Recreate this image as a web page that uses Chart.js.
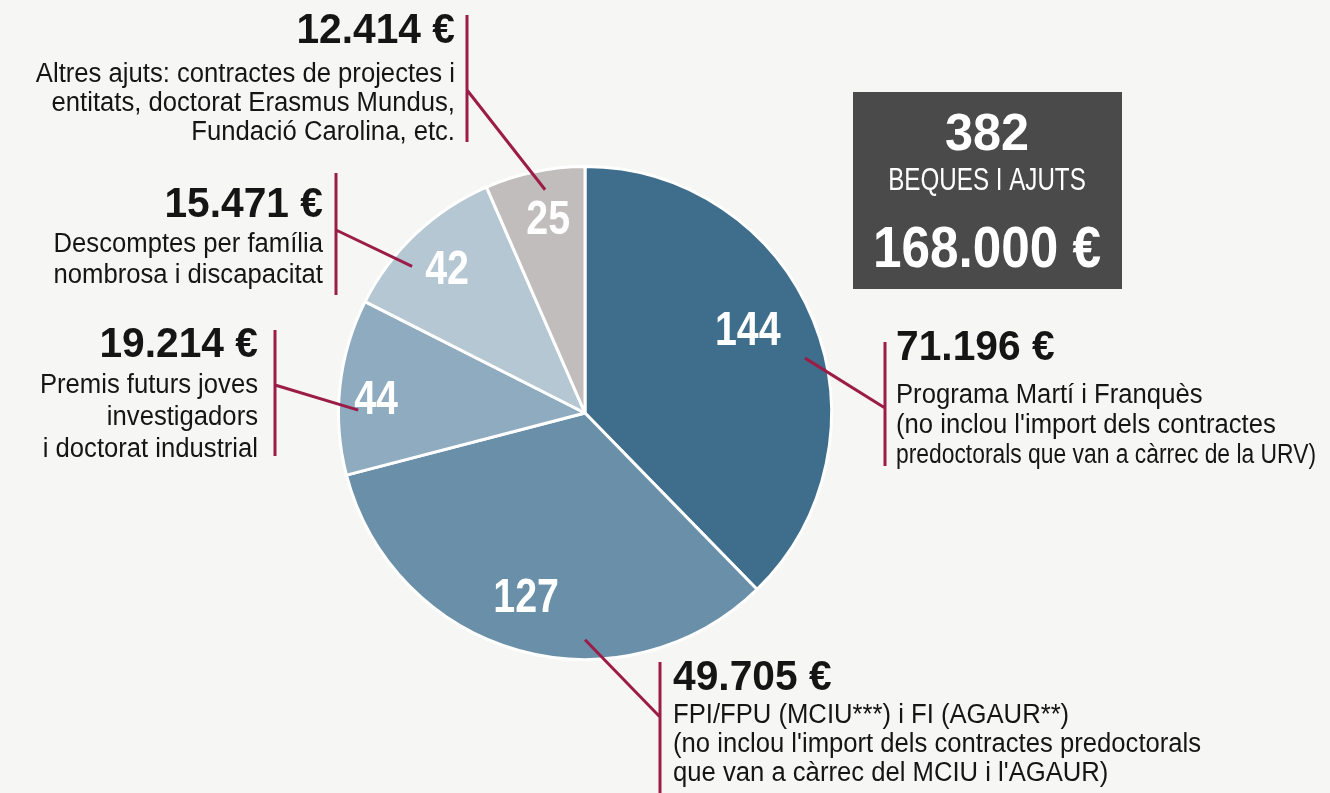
<!DOCTYPE html>
<html>
<head>
<meta charset="utf-8">
<script src="https://cdn.jsdelivr.net/npm/chart.js@4.4.1/dist/chart.umd.min.js"></script>
<style>
  html, body { margin: 0; padding: 0; background: #f6f6f4; }
  #wrap { width: 1330px; height: 793px; }
</style>
</head>
<body>
<div id="wrap"><canvas id="pie" width="1330" height="793"></canvas></div>
<script>
// beques i ajuts: nombre per programa i import
const categories = [
  'Programa Martí i Franquès',
  'FPI/FPU i FI',
  'Premis futurs joves investigadors i doctorat industrial',
  'Descomptes per família nombrosa i discapacitat',
  'Altres ajuts'
];
const counts = [144, 127, 44, 42, 25];
const amounts = [71196, 49705, 19214, 15471, 12414];
const descriptions = [
  ['Programa Martí i Franquès', "(no inclou l'import dels contractes", 'predoctorals que van a càrrec de la URV)'],
  ['FPI/FPU (MCIU***) i FI (AGAUR**)', "(no inclou l'import dels contractes predoctorals", "que van a càrrec del MCIU i l'AGAUR)"],
  ['Premis futurs joves', 'investigadors', 'i doctorat industrial'],
  ['Descomptes per família', 'nombrosa i discapacitat'],
  ['Altres ajuts: contractes de projectes i', 'entitats, doctorat Erasmus Mundus,', 'Fundació Carolina, etc.']
];
const totalLabel = 'BEQUES I AJUTS';

const colors = ['#3e6e8c', '#6990a8', '#8eabbf', '#b5c7d3', '#c1bdbd'];
const leaderColor = '#9c1c48';
const FONT = '"Liberation Sans", Arial, sans-serif';

// posicio dels blocs de text (maquetacio)
// frac = on toca la linia guia dins el sector, lf/lr = posicio de l'etiqueta
const blocks = [
  { align: 'left',  x: 896, bar: 885, top: 342, bottom: 466, join: 408, head: 360, first: 403, lh: 30, frac: 0.56, maxW: 420, lf: 0.46, lr: 0.745 },
  { align: 'left',  x: 673, bar: 660, top: 662, bottom: 793, join: 717, head: 690, first: 723, lh: 29, frac: 0.37, maxW: 0,   lf: 0.52, lr: 0.775 },
  { align: 'right', x: 258, bar: 275, top: 330, bottom: 456, join: 385, head: 357, first: 393, lh: 32, frac: 0.37, maxW: 0,   lf: 0.46, lr: 0.85 },
  { align: 'right', x: 323, bar: 336, top: 173, bottom: 295, join: 230, head: 217, first: 252, lh: 31, frac: 0.34, maxW: 0,   lf: 0.5,  lr: 0.815 },
  { align: 'right', x: 455, bar: 467, top: 15,  bottom: 142, join: 90,  head: 43,  first: 82,  lh: 29, frac: 0.57, maxW: 0,   lf: 0.55, lr: 0.81 }
];

function euros(v) {
  return String(v).replace(/\B(?=(\d{3})+(?!\d))/g, '.') + ' €';
}

function txt(ctx, s, x, y, size, bold, sx, align, color, maxW) {
  ctx.save();
  ctx.font = (bold ? 'bold ' : '') + size + 'px ' + FONT;
  ctx.fillStyle = color;
  ctx.textBaseline = 'alphabetic';
  ctx.textAlign = align;
  ctx.translate(x, y);
  ctx.scale(sx, 1);
  if (maxW) ctx.fillText(s, 0, 0, maxW / sx);
  else ctx.fillText(s, 0, 0);
  ctx.restore();
}

const annotations = {
  id: 'annotations',
  afterDatasetsDraw(chart) {
    const ctx = chart.ctx;
    const arcs = chart.getDatasetMeta(0).data;

    arcs.forEach((arc, i) => {
      const b = blocks[i];
      const p = arc.getProps(['x', 'y', 'startAngle', 'endAngle', 'outerRadius'], true);
      const span = p.endAngle - p.startAngle;

      // etiqueta dins el sector
      const m = p.startAngle + span * b.lf;
      const lr = p.outerRadius * b.lr;
      txt(ctx, String(counts[i]), p.x + Math.cos(m) * lr, p.y + Math.sin(m) * lr + 17, 48, true, 0.82, 'center', '#ffffff');

      // linia guia
      const a = p.startAngle + span * b.frac;
      const r = p.outerRadius * 0.92;
      ctx.save();
      ctx.strokeStyle = leaderColor;
      ctx.lineWidth = 3;
      ctx.beginPath();
      ctx.moveTo(b.bar, b.top);
      ctx.lineTo(b.bar, b.bottom);
      ctx.moveTo(b.bar, b.join);
      ctx.lineTo(p.x + Math.cos(a) * r, p.y + Math.sin(a) * r);
      ctx.stroke();
      ctx.restore();

      txt(ctx, euros(amounts[i]), b.x, b.head, 42, true, 0.97, b.align, '#151515');
      descriptions[i].forEach((line, k) => {
        txt(ctx, line, b.x, b.first + k * b.lh, 27, false, 0.95, b.align, '#151515', b.maxW);
      });
    });

    // caixa del total
    const totalN = counts.reduce((s, v) => s + v, 0);
    const totalE = amounts.reduce((s, v) => s + v, 0);
    ctx.save();
    ctx.fillStyle = '#4a4a4a';
    ctx.fillRect(853, 92, 269, 197);
    ctx.restore();
    txt(ctx, String(totalN), 987, 150, 52, true, 0.97, 'center', '#ffffff');
    txt(ctx, totalLabel, 987, 190, 31, false, 0.78, 'center', '#ffffff');
    txt(ctx, euros(totalE), 987, 267, 57, true, 0.9, 'center', '#ffffff');
  }
};

new Chart(document.getElementById('pie').getContext('2d'), {
  type: 'pie',
  data: {
    labels: categories,
    datasets: [{
      data: counts,
      backgroundColor: colors,
      borderColor: '#ffffff',
      borderWidth: 3,
      hoverOffset: 0
    }]
  },
  options: {
    responsive: false,
    animation: false,
    layout: { padding: { top: 165, bottom: 132, left: 337, right: 497 } },
    plugins: {
      legend: { display: false },
      tooltip: { enabled: false }
    }
  },
  plugins: [annotations]
});
</script>
</body>
</html>
